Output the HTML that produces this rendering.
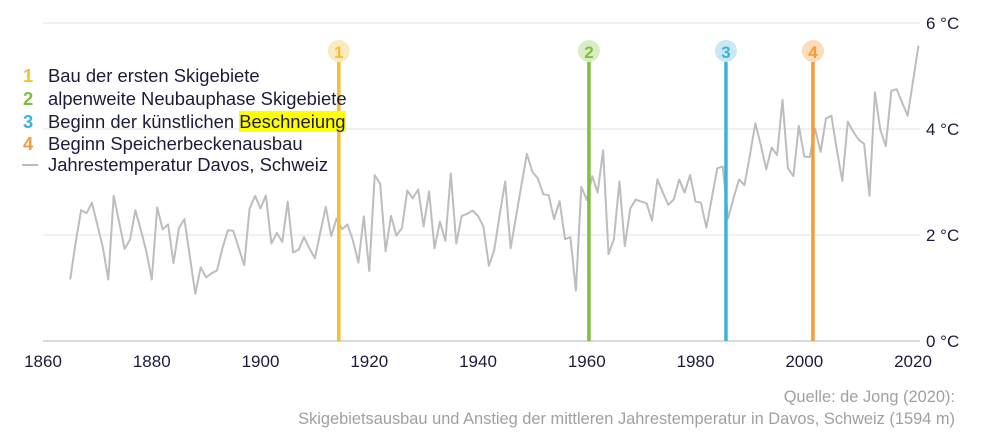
<!DOCTYPE html>
<html><head><meta charset="utf-8"><style>
body{margin:0;background:#fff;width:982px;height:436px;overflow:hidden;font-family:"Liberation Sans",sans-serif;position:relative}
svg text{font-family:"Liberation Sans",sans-serif}
#legend{position:absolute;left:0;top:0;font-size:18.4px;color:#1c1c3a}
#legend div{position:absolute;white-space:nowrap;line-height:22px}
#legend .n{position:absolute;left:-25px;font-weight:bold}
.hl{background:#ffff00}
</style></head><body>
<svg id="chart" width="982" height="436" viewBox="0 0 982 436" xmlns="http://www.w3.org/2000/svg" style="position:absolute;left:0;top:0">
<g id="grid"></g>
<g id="series"></g>
<g id="markers"></g>
<g id="axes"></g>
<line x1="22" y1="165" x2="38" y2="165" stroke="#bbb" stroke-width="2"/>
<g font-size="16.4" fill="#a0a0a0" text-anchor="end">
  <text x="955" y="402">Quelle: de Jong (2020):</text>
  <text x="955" y="424">Skigebietsausbau und Anstieg der mittleren Jahrestemperatur in Davos, Schweiz (1594 m)</text>
</g>
</svg>
<div id="legend">
  <div style="left:48px;top:65px"><span class="n" style="color:#f4c030">1</span>Bau der ersten Skigebiete</div>
  <div style="left:48px;top:88px"><span class="n" style="color:#7fbf3f">2</span>alpenweite Neubauphase Skigebiete</div>
  <div style="left:48px;top:111px"><span class="n" style="color:#3bb5d6">3</span>Beginn der künstlichen <span class="hl">Beschneiung</span></div>
  <div style="left:48px;top:133px"><span class="n" style="color:#f39c38">4</span>Beginn Speicherbeckenausbau</div>
  <div style="left:48px;top:154px">Jahrestemperatur Davos, Schweiz</div>
</div>
<script>
const startYear = 1865;
const temps = [1.16,1.85,2.47,2.41,2.61,2.19,1.77,1.16,2.74,2.25,1.74,1.91,2.47,2.09,1.69,1.16,2.52,2.11,2.2,1.47,2.13,2.3,1.6,0.89,1.39,1.2,1.28,1.33,1.75,2.09,2.08,1.75,1.43,2.5,2.74,2.5,2.75,1.84,2.04,1.87,2.63,1.67,1.72,1.96,1.75,1.56,2.05,2.53,1.98,2.31,2.11,2.2,1.9,1.48,2.35,1.32,3.13,2.97,1.69,2.36,1.99,2.13,2.84,2.69,2.86,2.16,2.82,1.75,2.25,1.89,3.16,1.84,2.36,2.4,2.46,2.36,2.16,1.42,1.72,2.4,3.01,1.75,2.35,2.95,3.53,3.19,3.07,2.77,2.75,2.3,2.64,1.92,1.96,0.95,2.91,2.66,3.11,2.8,3.6,1.64,1.92,3.01,1.79,2.5,2.67,2.63,2.6,2.27,3.05,2.8,2.57,2.67,3.05,2.8,3.13,2.63,2.61,2.14,2.7,3.26,3.29,2.31,2.7,3.05,2.94,3.5,4.11,3.7,3.24,3.65,3.51,4.55,3.26,3.11,4.06,3.48,3.47,4.0,3.57,4.2,4.25,3.6,3.02,4.14,3.95,3.8,3.72,2.74,4.69,3.98,3.68,4.72,4.75,4.5,4.25,4.9,5.57];
const xTicks = [1860,1880,1900,1920,1940,1960,1980,2000,2020];
const yTicks = [0,2,4,6];
const markerYears = [1914.4,1960.4,1985.6,2001.6];
const markerLabels = ["1","2","3","4"];
const markerColors = ["#f4c030","#7fbf3f","#3bb5d6","#f39c38"];
const markerFills = ["#fbe9c0","#d8edc6","#c9e8f3","#fcdcb9"];

const NS="http://www.w3.org/2000/svg";
const X0=43,X1=913,Y0=341,Y1=23;
function xs(y){return X0+(y-1860)/(2020-1860)*(X1-X0);}
function ys(t){return Y0-t/6*(Y0-Y1);}
function mk(tag,attrs,parent){const e=document.createElementNS(NS,tag);for(const k in attrs)e.setAttribute(k,attrs[k]);parent.appendChild(e);return e;}
const grid=document.getElementById('grid'),axes=document.getElementById('axes'),series=document.getElementById('series'),markers=document.getElementById('markers');
yTicks.forEach(t=>{
  const l=mk('line',{x1:X0,x2:920,y1:ys(t),y2:ys(t),stroke:t===0?'#d3dbd9':'#e2e9e7','stroke-width':t===0?2:1.2},grid);
  
  
  const tx=mk('text',{x:926,y:ys(t)+6,'font-size':17,fill:'#1c1c3a'},axes);
  tx.textContent=t+' °C';
  
  
});
xTicks.forEach(y=>{
  const tx=mk('text',{x:xs(y),y:367,'font-size':17,fill:'#1c1c3a','text-anchor':'middle'},axes);
  tx.textContent=y;
  
  
});
const pts=temps.map((t,i)=>xs(startYear+i).toFixed(1)+','+ys(t).toFixed(1)).join(' ');
const pl=mk('polyline',{points:pts,fill:'none',stroke:'#bdbdbd','stroke-width':2,'stroke-linejoin':'round'},series);


markerYears.forEach((y,i)=>{
  const x=xs(y);
  const l=mk('line',{x1:x,x2:x,y1:60,y2:Y0,stroke:markerColors[i],'stroke-width':3.5},markers);
  
  
  const c=mk('circle',{cx:x,cy:51,r:11,fill:markerFills[i]},markers);
  
  
  const t=mk('text',{x:x,y:58,'font-size':17,'font-weight':'bold',fill:markerColors[i],'text-anchor':'middle'},markers);
  t.textContent=markerLabels[i];
  
  
});
</script>
</body></html>
